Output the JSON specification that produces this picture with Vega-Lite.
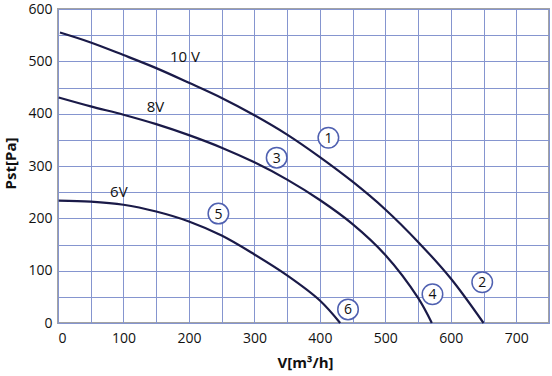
{
  "$schema": "https://vega.github.io/schema/vega-lite/v6.json",
  "width": 491,
  "height": 314,
  "autosize": {"type": "none"},
  "padding": {"left": 58, "top": 9, "right": 3, "bottom": 53},
  "background": "white",
  "config": {
    "view": {"stroke": "#a3a3a3", "strokeWidth": 2},
    "font": "Open Sans"
  },
  "datasets": {
    "curves": [
      {"s": "10V", "V": 3, "P": 555},
      {"s": "10V", "V": 50, "P": 536},
      {"s": "10V", "V": 100, "P": 512},
      {"s": "10V", "V": 150, "P": 487},
      {"s": "10V", "V": 200, "P": 459},
      {"s": "10V", "V": 250, "P": 430},
      {"s": "10V", "V": 300, "P": 397},
      {"s": "10V", "V": 350, "P": 360},
      {"s": "10V", "V": 400, "P": 317},
      {"s": "10V", "V": 450, "P": 270},
      {"s": "10V", "V": 500, "P": 217},
      {"s": "10V", "V": 550, "P": 155},
      {"s": "10V", "V": 600, "P": 85},
      {"s": "10V", "V": 650, "P": 0},
      {"s": "8V", "V": 1, "P": 431},
      {"s": "8V", "V": 50, "P": 414},
      {"s": "8V", "V": 100, "P": 398},
      {"s": "8V", "V": 150, "P": 380},
      {"s": "8V", "V": 200, "P": 359},
      {"s": "8V", "V": 250, "P": 335},
      {"s": "8V", "V": 300, "P": 307},
      {"s": "8V", "V": 350, "P": 274},
      {"s": "8V", "V": 400, "P": 235},
      {"s": "8V", "V": 450, "P": 189},
      {"s": "8V", "V": 500, "P": 130},
      {"s": "8V", "V": 550, "P": 48},
      {"s": "8V", "V": 571, "P": 0},
      {"s": "6V", "V": 1, "P": 234},
      {"s": "6V", "V": 50, "P": 232},
      {"s": "6V", "V": 100, "P": 226},
      {"s": "6V", "V": 150, "P": 213},
      {"s": "6V", "V": 200, "P": 194},
      {"s": "6V", "V": 250, "P": 167},
      {"s": "6V", "V": 300, "P": 131},
      {"s": "6V", "V": 350, "P": 91},
      {"s": "6V", "V": 400, "P": 43},
      {"s": "6V", "V": 431, "P": 0}
    ],
    "volts": [
      {"t": "10 V", "V": 194, "P": 508},
      {"t": "8V", "V": 149, "P": 413},
      {"t": "6V", "V": 93, "P": 250}
    ],
    "marks": [
      {"n": "1", "V": 413, "P": 354},
      {"n": "2", "V": 648, "P": 78},
      {"n": "3", "V": 334, "P": 316},
      {"n": "4", "V": 572, "P": 55},
      {"n": "5", "V": 245, "P": 209},
      {"n": "6", "V": 443, "P": 26}
    ]
  },
  "encoding": {
    "x": {
      "field": "V", "type": "quantitative",
      "scale": {"domain": [0, 750], "nice": false, "zero": false},
      "axis": {
        "title": "V[m³/h]",
        "values": [0, 50, 100, 150, 200, 250, 300, 350, 400, 450, 500, 550, 600, 650, 700, 750],
        "labelExpr": "datum.value % 100 === 0 && datum.value < 750 ? datum.label : ''",
        "grid": true, "gridColor": "#8595cf", "gridWidth": 1, "gridOpacity": 1,
        "domain": false, "ticks": false,
        "labelFontSize": 14, "labelColor": "#111", "labelPadding": 8, "labelFont": "Open Sans",
        "titleFontSize": 15, "titleFontWeight": "bold", "titleColor": "#111", "titleFont": "Open Sans",
        "titleX": 247, "titleY": 32, "titleAnchor": "middle"
      }
    },
    "y": {
      "field": "P", "type": "quantitative",
      "scale": {"domain": [0, 600], "nice": false},
      "axis": {
        "title": "Pst[Pa]",
        "values": [0, 50, 100, 150, 200, 250, 300, 350, 400, 450, 500, 550, 600],
        "labelExpr": "datum.value % 100 === 0 ? datum.label : ''",
        "grid": true, "gridColor": "#8595cf", "gridWidth": 1, "gridOpacity": 1,
        "domain": false, "ticks": false,
        "labelFontSize": 14, "labelColor": "#111", "labelPadding": 6, "labelFont": "Open Sans",
        "titleFontSize": 15, "titleFontWeight": "bold", "titleColor": "#111", "titleFont": "Open Sans",
        "titleX": -40, "titleY": 154, "titleAngle": -90, "titleAnchor": "middle"
      }
    }
  },
  "layer": [
    {
      "data": {"name": "curves"},
      "mark": {"type": "line", "interpolate": "catmull-rom", "color": "#1a1a48", "strokeWidth": 2.2},
      "encoding": {"detail": {"field": "s"}}
    },
    {
      "data": {"name": "volts"},
      "mark": {"type": "text", "fontSize": 15, "color": "#111", "font": "Open Sans"},
      "encoding": {"text": {"field": "t"}}
    },
    {
      "data": {"name": "marks"},
      "mark": {"type": "point", "shape": "circle", "size": 420, "filled": true, "fill": "white", "fillOpacity": 1, "stroke": "#4f60b0", "strokeWidth": 1.5, "opacity": 1}
    },
    {
      "data": {"name": "marks"},
      "mark": {"type": "text", "fontSize": 14, "color": "#111", "font": "Open Sans", "dy": 1},
      "encoding": {"text": {"field": "n"}}
    }
  ]
}
